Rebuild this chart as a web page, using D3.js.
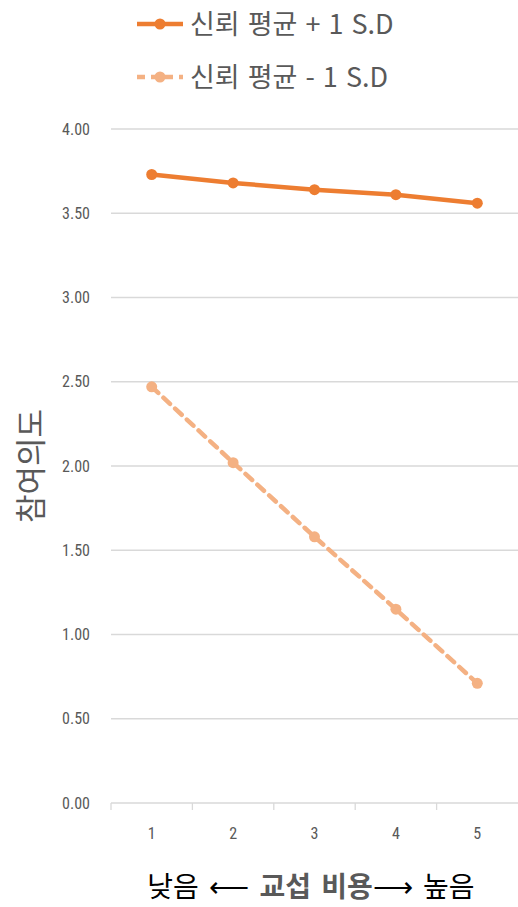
<!DOCTYPE html>
<html>
<head>
<meta charset="utf-8">
<script src="https://cdn.jsdelivr.net/npm/d3@7"></script>
<style>
  html, body { margin: 0; padding: 0; background: #fff; }
  svg { display: block; }
</style>
</head>
<body>
<svg id="chart" width="518" height="907"></svg>
<script>
// Participation intention by bargaining cost, split by trust level
const categories = ["1", "2", "3", "4", "5"];
const seriesNames = ["신뢰 평균 + 1 S.D", "신뢰 평균 - 1 S.D"];
const highTrust = [3.73, 3.68, 3.64, 3.61, 3.56];
const lowTrust = [2.47, 2.02, 1.58, 1.15, 0.71];
const yTicks = [0, 0.5, 1, 1.5, 2, 2.5, 3, 3.5, 4];
const yTitle = "참여의도";

const svg = d3.select("#chart");
const W = 518, H = 907;
const m = { left: 111, right: 0, top: 129, bottom: 104 };

const x = d3.scaleBand().domain(categories).range([m.left, W - m.right]).padding(0);
const y = d3.scaleLinear().domain([0, 4]).range([H - m.bottom, m.top]);

const tickFont = "'Liberation Sans Narrow', 'Roboto Condensed', Arial, sans-serif";
const krFont = "'Noto Sans CJK KR', 'Noto Sans', sans-serif";
const gray = "#595959";

// Horizontal gridlines
svg.append("g")
  .selectAll("line")
  .data(yTicks.filter(d => d > 0))
  .join("line")
  .attr("x1", m.left).attr("x2", W)
  .attr("y1", d => y(d)).attr("y2", d => y(d))
  .attr("stroke", "#d9d9d9").attr("stroke-width", 1.3);

// Y axis labels
const yAxis = svg.append("g")
  .attr("transform", `translate(${m.left},0)`)
  .call(d3.axisLeft(y).tickValues(yTicks).tickFormat(d3.format(".2f")).tickSize(0).tickPadding(21));
yAxis.select(".domain").remove();
yAxis.selectAll("text")
  .attr("fill", gray).attr("font-family", tickFont).attr("font-size", 16);

// X axis with category ticks at band edges
const xAxisG = svg.append("g").attr("transform", `translate(0,${y(0)})`);
xAxisG.append("line")
  .attr("x1", m.left).attr("x2", W).attr("y1", 0).attr("y2", 0)
  .attr("stroke", "#d9d9d9").attr("stroke-width", 1.3);
xAxisG.selectAll("line.tick")
  .data(categories)
  .join("line")
  .attr("class", "tick")
  .attr("x1", d => x(d)).attr("x2", d => x(d))
  .attr("y1", 0).attr("y2", 7)
  .attr("stroke", "#d9d9d9").attr("stroke-width", 1.3);
xAxisG.selectAll("text")
  .data(categories)
  .join("text")
  .attr("x", d => x(d) + x.bandwidth() / 2)
  .attr("y", 36)
  .attr("text-anchor", "middle")
  .attr("fill", gray).attr("font-family", tickFont).attr("font-size", 16)
  .text(d => d);

// Series lines
const cx = d => x(d) + x.bandwidth() / 2;
const series = [
  { name: seriesNames[0], values: highTrust, color: "#ED7D31", dash: null },
  { name: seriesNames[1], values: lowTrust, color: "#F4B183", dash: "9,7" }
];
const line = d3.line().x((d, i) => cx(categories[i])).y(d => y(d));

series.forEach(s => {
  svg.append("path")
    .datum(s.values)
    .attr("d", line)
    .attr("fill", "none")
    .attr("stroke", s.color)
    .attr("stroke-width", 4.5)
    .attr("stroke-dasharray", s.dash)
    .attr("stroke-linecap", s.dash ? "round" : "butt");
  svg.append("g")
    .selectAll("circle")
    .data(s.values)
    .join("circle")
    .attr("cx", (d, i) => cx(categories[i]))
    .attr("cy", d => y(d))
    .attr("r", 5.5)
    .attr("fill", s.color);
});

// Legend
const legend = svg.append("g");
series.forEach((s, i) => {
  const ly = 24 + i * 53;
  legend.append("line")
    .attr("x1", 137).attr("x2", 183).attr("y1", ly).attr("y2", ly)
    .attr("stroke", s.color).attr("stroke-width", 4.5)
    .attr("stroke-dasharray", s.dash ? "8,6" : null);
  legend.append("circle").attr("cx", 160).attr("cy", ly).attr("r", 5.5).attr("fill", s.color);
  legend.append("text")
    .attr("x", 190).attr("y", ly + 10)
    .attr("fill", gray).attr("font-family", krFont).attr("font-size", 27)
    .attr("word-spacing", 2)
    .text(s.name);
});

// Y axis title
svg.append("text")
  .attr("transform", `translate(42,${(y(2.5) + y(1.5)) / 2}) rotate(-90)`)
  .attr("text-anchor", "middle")
  .attr("fill", gray).attr("font-family", krFont).attr("font-size", 31)
  .text(yTitle);

// X axis title
const xt = svg.append("text")
  .attr("x", 311).attr("y", 897)
  .attr("text-anchor", "middle")
  .attr("font-family", krFont).attr("font-size", 28)
  .attr("word-spacing", 4);
xt.append("tspan").attr("fill", "#000").text("낮음 ");
xt.append("tspan").attr("fill", "#000").text("⟵ ");
xt.append("tspan").attr("fill", gray).attr("font-weight", "bold").text("교섭 비용");
xt.append("tspan").attr("fill", "#000").text("⟶ ");
xt.append("tspan").attr("fill", "#000").text("높음");
</script>
</body>
</html>
